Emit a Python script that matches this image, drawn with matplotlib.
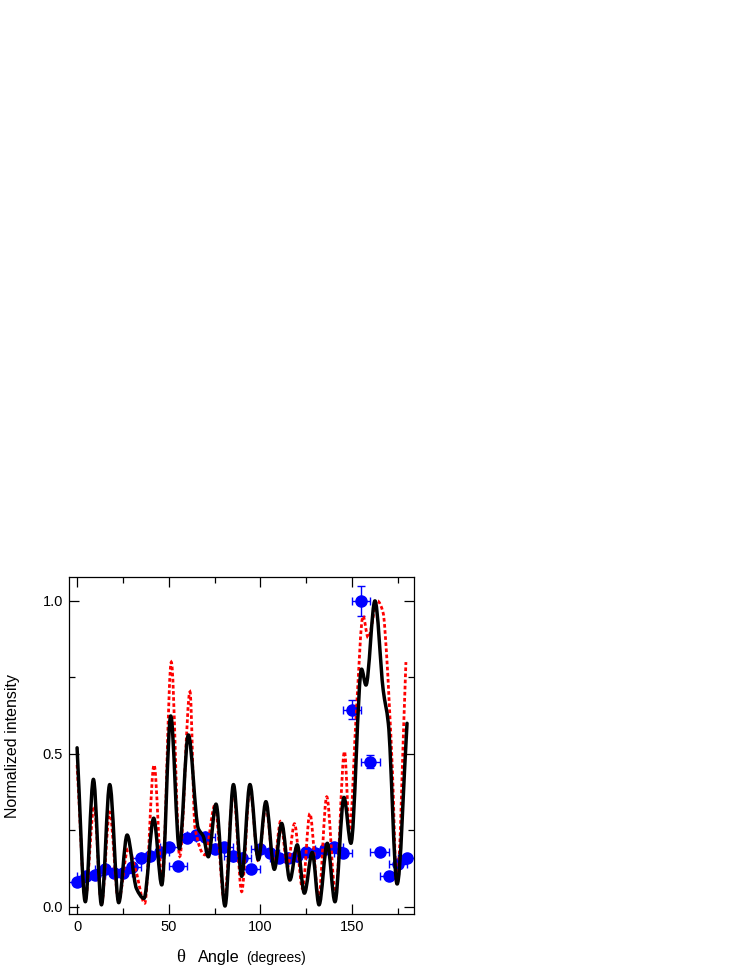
import numpy as np
import matplotlib.pyplot as plt
from matplotlib.path import Path
from matplotlib.patches import PathPatch

plt.rcParams['font.family'] = ['Liberation Sans', 'DejaVu Sans']

# measured intensities (blue points)
meas_ang = [0, 5, 10, 15, 20, 25, 30, 35, 40, 45, 50, 55, 60, 65, 70, 75, 80, 85, 90,
            95, 100, 105, 110, 115, 120, 125, 130, 135, 140, 145, 150, 155, 160, 165,
            170, 175, 180]
meas_int = [0.08, 0.10, 0.105, 0.125, 0.11, 0.11, 0.13, 0.16, 0.165, 0.18, 0.195, 0.135,
            0.225, 0.235, 0.23, 0.19, 0.195, 0.165, 0.16, 0.125, 0.19, 0.175, 0.16, 0.16,
            0.165, 0.18, 0.175, 0.19, 0.195, 0.175, 0.645, 1.0, 0.475, 0.18, 0.10, 0.14, 0.16]
meas_yerr = [0.01, 0.01, 0.01, 0.01, 0.01, 0.01, 0.01, 0.01, 0.01, 0.01, 0.01, 0.01,
             0.01, 0.01, 0.01, 0.01, 0.01, 0.01, 0.01, 0.01, 0.01, 0.01, 0.01, 0.01,
             0.01, 0.01, 0.01, 0.01, 0.01, 0.01, 0.03, 0.05, 0.02, 0.01, 0.01, 0.01, 0.01]
meas_xerr = 5

# black solid curve: peaks / troughs / shoulders
calc_ang = [0, 4.5, 8.9, 13.3, 17.8, 22.7, 27.3, 32.4, 36.5, 41.8, 46.2, 51.1, 55.8, 60.7,
            66.1, 68.9, 71.6, 75.8, 80.7, 85.3, 89.8, 94.3, 98.9, 103, 107.6, 111.6, 116.1,
            120.1, 124, 128.3, 132, 136.5, 140.7, 145.6, 149.4, 155.2, 157.6, 162.5, 167,
            169.8, 174.6, 180]
calc_int = [0.52, 0.017, 0.417, 0.007, 0.40, 0.014, 0.235, 0.06, 0.028, 0.29, 0.072, 0.624,
            0.19, 0.562, 0.257, 0.23, 0.164, 0.336, 0.003, 0.40, 0.10, 0.40, 0.154, 0.344,
            0.123, 0.273, 0.088, 0.203, 0.045, 0.178, 0.007, 0.208, 0.017, 0.358, 0.208,
            0.777, 0.725, 1.0, 0.709, 0.60, 0.075, 0.60]

# red dotted curve
alt_ang = [0, 4.5, 9.3, 13.3, 17.8, 22.6, 27.8, 32, 36.9, 42, 46.4, 51.4, 56, 61.6, 64.3,
           69.8, 75.2, 80.3, 85.3, 89.8, 94.3, 98.9, 103, 107.4, 111, 114.8, 118.6, 123,
           127, 131.8, 136.2, 141, 145.9, 148.6, 152.5, 156, 158.8, 163.8, 167, 168.8,
           170.3, 172, 174.4, 179.4]
alt_int = [0.464, 0.03, 0.33, 0.01, 0.31, 0.02, 0.19, 0.12, 0.012, 0.464, 0.08, 0.80, 0.165,
           0.703, 0.26, 0.17, 0.333, 0.02, 0.38, 0.05, 0.39, 0.15, 0.33, 0.13, 0.28, 0.13,
           0.272, 0.06, 0.305, 0.03, 0.36, 0.04, 0.508, 0.25, 0.655, 0.95, 0.88, 1.0, 0.96,
           0.83, 0.666, 0.45, 0.07, 0.80]


def smooth_path(xs, ys):
    # cubic bezier segments with monotone (pchip-style) tangents
    x = np.asarray(xs, float)
    y = np.asarray(ys, float)
    h = np.diff(x)
    dl = np.diff(y) / h
    d = np.zeros_like(x)
    d[0], d[-1] = dl[0], dl[-1]
    for k in range(1, len(x) - 1):
        if dl[k - 1] * dl[k] > 0:
            w1 = 2 * h[k] + h[k - 1]
            w2 = h[k] + 2 * h[k - 1]
            d[k] = (w1 + w2) / (w1 / dl[k - 1] + w2 / dl[k])
    verts = [(x[0], y[0])]
    codes = [Path.MOVETO]
    for k in range(len(h)):
        verts += [(x[k] + h[k] / 3, y[k] + d[k] * h[k] / 3),
                  (x[k + 1] - h[k] / 3, y[k + 1] - d[k + 1] * h[k] / 3),
                  (x[k + 1], y[k + 1])]
        codes += [Path.CURVE4] * 3
    return Path(verts, codes)


fig = plt.figure(figsize=(7.47, 9.67), dpi=100)
ax = fig.add_axes([0.0924, 0.0548, 0.4618, 0.3485])

ax.errorbar(meas_ang, meas_int, xerr=meas_xerr, yerr=meas_yerr, fmt='o', color='#0000ff',
            ms=8, elinewidth=1, capsize=3, capthick=1, zorder=2)

ax.add_patch(PathPatch(smooth_path(alt_ang, alt_int), fill=False, edgecolor='#ff0000',
                       lw=2.0, linestyle=(0, (1.3, 0.9)), capstyle='butt', zorder=3))
ax.add_patch(PathPatch(smooth_path(calc_ang, calc_int), fill=False, edgecolor='black',
                       lw=2.5, capstyle='round', joinstyle='round', zorder=4))

ax.set_xlim(-4.4, 183.8)
ax.set_ylim(-0.023, 1.078)
ax.set_xticks([0, 50, 100, 150])
ax.set_xticks([25, 75, 125, 175], minor=True)
ax.set_yticks([0.0, 0.5, 1.0])
ax.set_yticklabels(['0.0', '0.5', '1.0'])
ax.set_yticks([0.25, 0.75], minor=True)
ax.tick_params(which='both', direction='in', top=True, right=True, width=0.9,
               labelsize=10.5, pad=4.5)
ax.tick_params(which='major', length=7)
ax.tick_params(which='minor', length=4.5)
for s in ax.spines.values():
    s.set_linewidth(0.9)

ax.set_ylabel('Normalized intensity', fontsize=11.5, labelpad=16)

fig.text(176 / 747, 5 / 967, '\u03b8', family='Liberation Serif', size=13.5,
         ha='left', va='baseline')
fig.text(198 / 747, 5 / 967, 'Angle', size=11.7, ha='left', va='baseline')
fig.text(246 / 747, 5 / 967, '(degrees)', size=10, ha='left', va='baseline')

fig.savefig('out.png', dpi=100)
